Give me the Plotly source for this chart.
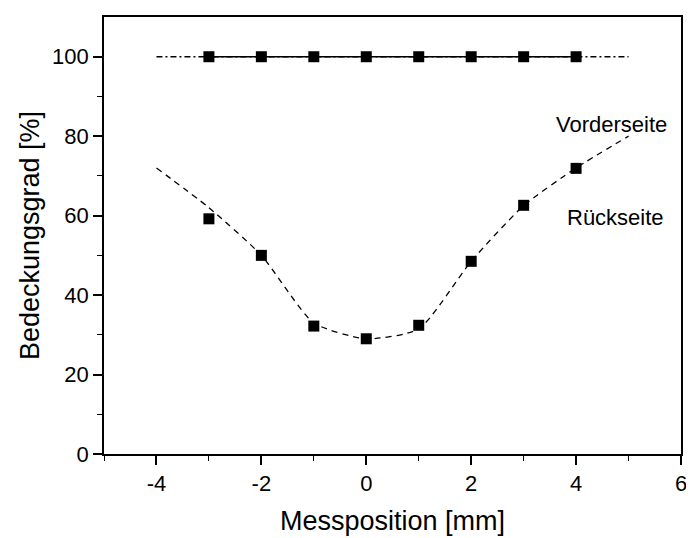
import plotly.graph_objects as go

# Measured points
x_pts = [-3, -2, -1, 0, 1, 2, 3, 4]
vorder = [100, 100, 100, 100, 100, 100, 100, 100]
rueck = [59.2, 50.0, 32.2, 29.0, 32.4, 48.5, 62.6, 71.9]

# Guide curve for back side
x_fit = [-4, -3, -2, -1, 0, 1, 2, 3, 4, 5]
rueck_fit = [72.0, 62.0, 50.0, 33.0, 29.0, 31.5, 48.5, 62.5, 72.0, 80.0]

# Extended guide line for front side
x_ext = [-4, 5]
vorder_ext = [100, 100]

x_ticks = [-4, -2, 0, 2, 4, 6]
x_tick_labels = ["-4", "-2", "0", "2", "4", "6"]
y_ticks = [0, 20, 40, 60, 80, 100]

FONT = "Liberation Sans, Arial, sans-serif"

fig = go.Figure()

fig.add_trace(go.Scatter(x=x_fit, y=rueck_fit, mode="lines",
                         line=dict(color="black", width=1.3, dash="6px,5px", shape="spline", smoothing=0.6),
                         showlegend=False, hoverinfo="skip"))
fig.add_trace(go.Scatter(x=x_ext, y=vorder_ext, mode="lines",
                         line=dict(color="black", width=1.3, dash="6px,3px,2px,3px"),
                         showlegend=False, hoverinfo="skip"))
fig.add_trace(go.Scatter(x=x_pts, y=vorder, mode="lines+markers",
                         line=dict(color="black", width=1.5),
                         marker=dict(symbol="square", size=11, color="black"),
                         showlegend=False))
fig.add_trace(go.Scatter(x=x_pts, y=rueck, mode="markers",
                         marker=dict(symbol="square", size=11, color="black"),
                         showlegend=False))

fig.add_annotation(x=4.68, y=83, text="Vorderseite", showarrow=False,
                   font=dict(family=FONT, size=22, color="black"))
fig.add_annotation(x=4.75, y=59.5, text="Rückseite", showarrow=False,
                   font=dict(family=FONT, size=22, color="black"))

fig.update_xaxes(range=[-5, 6], tickvals=x_ticks, ticktext=x_tick_labels, ticks="outside", ticklen=9, tickwidth=1.5,
                 tickcolor="black", showline=True, linecolor="black", linewidth=1.8, mirror=True,
                 showgrid=False, zeroline=False,
                 minor=dict(tickvals=[-5, -3, -1, 1, 3, 5], ticks="outside", ticklen=5, tickcolor="black", tickwidth=1.2),
                 tickfont=dict(family=FONT, size=22, color="black"),
                 title=dict(text="Messposition [mm]", font=dict(family=FONT, size=27, color="black"), standoff=16))
fig.update_yaxes(range=[0, 110], tickvals=y_ticks, ticks="outside", ticklen=9, tickwidth=1.5,
                 tickcolor="black", showline=True, linecolor="black", linewidth=1.8, mirror=True,
                 showgrid=False, zeroline=False,
                 minor=dict(tickvals=[10, 30, 50, 70, 90], ticks="outside", ticklen=5, tickcolor="black", tickwidth=1.2),
                 tickfont=dict(family=FONT, size=22, color="black"),
                 title=dict(text="Bedeckungsgrad [%]", font=dict(family=FONT, size=27, color="black"), standoff=5))

# page body has an 8px default margin; compensate so the plot area lands at the same place
fig.update_layout(width=686, height=530, margin=dict(l=96, r=9, t=7, b=80),
                  plot_bgcolor="white", paper_bgcolor="white")

fig.write_html("out.html")
